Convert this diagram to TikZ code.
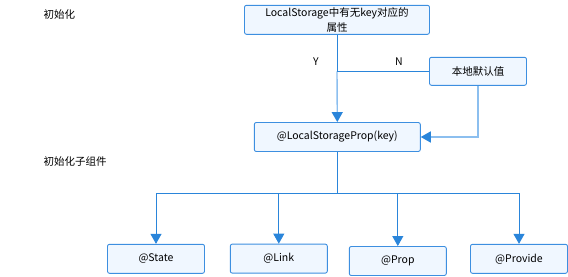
\documentclass[tikz,border=0pt]{standalone}
\usepackage{fontspec}
\setmainfont{Noto Sans CJK SC}
\usetikzlibrary{arrows.meta}
\definecolor{boxfill}{HTML}{F0F7FF}
\definecolor{boxline}{HTML}{3D8FE0}
\definecolor{wireblue}{HTML}{2A85DA}
\definecolor{paleblue}{HTML}{8CBFEF}
\tikzset{
	flowbox/.style={draw=boxline, fill=boxfill, rounded corners=2pt, line width=0.9pt,
		minimum width=97pt, minimum height=29pt, inner sep=0pt, align=center},
	wire/.style={draw=wireblue, line width=0.9pt},
	arr/.style={wire, -{Triangle[width=11pt,length=10pt,color=wireblue,fill=wireblue]}},
}
\begin{document}
\begin{tikzpicture}[x=1pt, y=-1pt, font=\fontsize{10.5}{14.5}\selectfont]
	\useasboundingbox (0,0) rectangle (568,276);
	% Stage labels on the left
	\node[anchor=west] (initlbl) at (40,15) {初始化};
	\node[anchor=west] (childlbl) at (40,162) {初始化子组件};
	
	% Lookup in LocalStorage
	\node[flowbox, minimum width=185pt] (query) at (337,19.8) {LocalStorage中有无key对应的\\属性};
	\node[flowbox, minimum height=28pt] (dflt) at (478,71.3) {本地默认值};
	\node[flowbox, minimum width=166pt] (lsprop) at (337.3,137) {@LocalStorageProp(key)};
	\coordinate (njoin) at (query.south |- dflt.west);
	\node (yes) at (316,62) {Y};
	\node (no) at (399,62) {N};
	
	\draw[wire] (query.south) -- (njoin);
	\draw[arr, draw=paleblue, line width=1.4pt] (njoin) -- (lsprop.north);
	\draw[wire] (dflt.west) -- (njoin);
	\draw[arr, draw=paleblue, line width=1.4pt] (dflt.south) |- (lsprop.east);
	
	% Child components
	\coordinate (bus) at (lsprop.south |- 0,193);
	\draw[wire] (lsprop.south) -- (bus);
	\foreach \nm/\txt/\cx/\cy in {state/@State/156/258.8, link/@Link/278.8/258.6,
		prop/@Prop/397.8/261, provide/@Provide/519/258.8} {
		\node[flowbox] (\nm) at (\cx,\cy) {\txt};
		\draw[arr] (bus) -| (\nm.north);
	}
\end{tikzpicture}
\end{document}
